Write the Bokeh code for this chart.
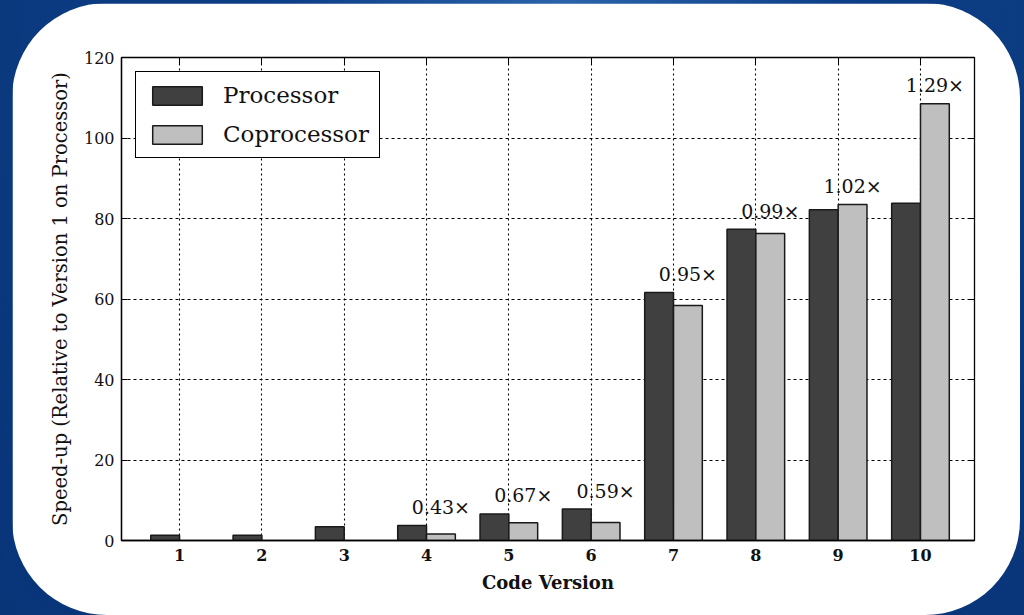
from bokeh.plotting import figure
from bokeh.models import (ColumnDataSource, FixedTicker, LinearAxis, Range1d, Legend)
from bokeh.core.properties import value
from bokeh.layouts import column
from bokeh.embed import file_html
from bokeh.resources import INLINE

# ---- data ----
versions = [1, 2, 3, 4, 5, 6, 7, 8, 9, 10]
processor = [1.3, 1.3, 3.4, 3.7, 6.6, 7.8, 61.6, 77.3, 82.2, 83.8]
cop_versions = [4, 5, 6, 7, 8, 9, 10]
coprocessor = [1.6, 4.4, 4.5, 58.4, 76.3, 83.5, 108.5]
ratio_labels = ["0.43×", "0.67×", "0.59×", "0.95×", "0.99×", "1.02×", "1.29×"]
y_ticks = [0, 20, 40, 60, 80, 100, 120]
x_ticks = versions

BAR_W = 0.35
DARK = "#404040"
LIGHT = "#bfbfbf"
FONT = "DejaVu Serif"
INK = "#111111"

proc_src = ColumnDataSource(dict(x=[v - BAR_W / 2 for v in versions], top=processor))
cop_src = ColumnDataSource(dict(x=[v + BAR_W / 2 for v in cop_versions], top=coprocessor))
pmap = dict(zip(versions, processor))
lab_src = ColumnDataSource(dict(
    x=[v + BAR_W / 2 for v in cop_versions],
    y=[max(pmap[v], c) + 4.6 for v, c in zip(cop_versions, coprocessor)],
    text=ratio_labels))

p = figure(frame_width=853, frame_height=483,
           x_range=Range1d(0.295, 10.656), y_range=Range1d(0, 120),
           output_backend="svg", toolbar_location=None,
           min_border_left=109, min_border_top=54, min_border_right=46, min_border_bottom=75)

p.background_fill_color = "white"
p.border_fill_color = "white"
p.outline_line_color = "black"
p.outline_line_width = 1.3

# grid
p.xgrid.ticker = FixedTicker(ticks=x_ticks)
p.ygrid.ticker = FixedTicker(ticks=y_ticks)
for g in (p.xgrid, p.ygrid):
    g.grid_line_color = "black"
    g.grid_line_width = 1.1
p.xgrid.grid_line_dash = "2 3"
p.ygrid.grid_line_dash = "3 3"

r1 = p.vbar(x="x", top="top", width=BAR_W, source=proc_src, fill_color=DARK,
            line_color="#1a1a1a", line_width=1.5)
r2 = p.vbar(x="x", top="top", width=BAR_W, source=cop_src, fill_color=LIGHT,
            line_color="#1a1a1a", line_width=1.5)

p.text(x="x", y="y", text="text", source=lab_src, text_align="center",
       text_baseline="middle", text_font=value(FONT), text_font_size="19px", text_color=INK)

# axes
xa = p.xaxis[0]
xa.ticker = FixedTicker(ticks=x_ticks)
xa.axis_label = "Code Version"
xa.axis_label_text_font = FONT
xa.axis_label_text_font_style = "bold"
xa.axis_label_text_font_size = "18px"
xa.axis_label_text_color = INK
xa.axis_label_standoff = 8
xa.major_label_text_font = FONT
xa.major_label_text_font_style = "bold"
xa.major_label_text_font_size = "16px"
xa.major_label_text_color = INK
xa.major_label_standoff = 8
xa.major_tick_in = 0
xa.major_tick_out = 0
xa.minor_tick_line_color = None
xa.axis_line_color = "black"
xa.axis_line_width = 1.3

ya = p.yaxis[0]
ya.ticker = FixedTicker(ticks=y_ticks)
ya.axis_label = "Speed-up (Relative to Version 1 on Processor)"
ya.axis_label_text_font = FONT
ya.axis_label_text_font_style = "normal"
ya.axis_label_text_font_size = "19.5px"
ya.axis_label_text_color = INK
ya.axis_label_standoff = 9
ya.major_label_text_font = FONT
ya.major_label_text_font_size = "16px"
ya.major_label_text_color = INK
ya.major_label_standoff = 7
ya.major_tick_in = 6
ya.major_tick_out = 0
ya.minor_tick_line_color = None
ya.axis_line_color = "black"
ya.axis_line_width = 1.3

top_axis = LinearAxis(ticker=FixedTicker(ticks=x_ticks),
                      major_label_overrides={t: "" for t in x_ticks},
                      major_tick_in=7, major_tick_out=0, minor_tick_line_color=None,
                      axis_line_color=None, major_label_standoff=0)
right_axis = LinearAxis(ticker=FixedTicker(ticks=y_ticks),
                        major_label_overrides={t: "" for t in y_ticks},
                        major_tick_in=6, major_tick_out=0, minor_tick_line_color=None,
                        axis_line_color=None, major_label_standoff=0)
p.add_layout(top_axis, "above")
p.add_layout(right_axis, "right")

legend = Legend(items=[("Processor", [r1]), ("Coprocessor", [r2])], location="top_left")
legend.margin = 14
legend.padding = 10
legend.spacing = 13
legend.glyph_width = 62
legend.glyph_height = 23
legend.label_standoff = 15
legend.label_text_font = FONT
legend.label_text_font_size = "23px"
legend.label_text_color = INK
legend.border_line_color = "black"
legend.border_line_width = 1.2
legend.border_line_alpha = 1
legend.background_fill_color = "white"
legend.background_fill_alpha = 1
p.add_layout(legend, "center")

p.styles = {"border-radius": "95px", "overflow": "hidden"}
p.margin = (3, 4, 0, 12)

root = column(p, width=1024, height=615,
              styles={"background": "radial-gradient(ellipse at 55% 0%, #2a63a8 0%, #0d3f86 35%, #083478 100%)",
                      "overflow": "hidden"})

open("out.html", "w").write(file_html(root, INLINE))
